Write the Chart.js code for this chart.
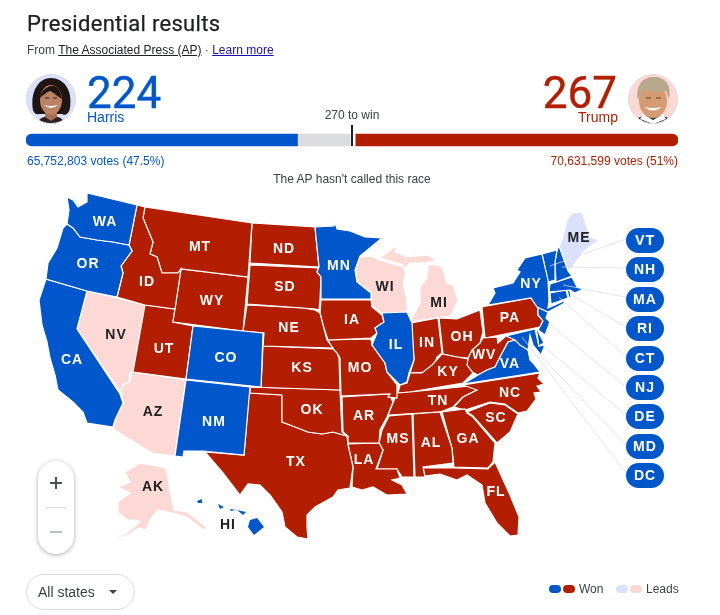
<!DOCTYPE html>
<html><head><meta charset="utf-8">
<script src="https://cdn.jsdelivr.net/npm/chart.js@4"></script>
<style>
html,body{margin:0;padding:0;background:#fff;width:720px;height:615px;overflow:hidden;font-family:"Liberation Sans",Arial,sans-serif;color:#202124}
.t{position:absolute;white-space:nowrap;line-height:1}
canvas{position:absolute}
.pill{position:absolute;left:626px;width:38px;height:25px;border-radius:13px;background:#0057cc;color:#fff;font:bold 14px/25px "Liberation Sans";letter-spacing:1px;text-align:center}
.dot{position:absolute;top:585px;width:12px;height:8px;border-radius:4px}
</style></head><body>
<canvas id="map" width="720" height="615" style="left:0;top:0"></canvas>
<canvas id="bar" width="652" height="30" style="left:26px;top:125px"></canvas>

<div class="t" style="left:27px;top:13px;font:400 22px/1 Roboto;letter-spacing:.3px;color:#202124;-webkit-text-stroke:.25px #202124">Presidential results</div>
<div class="t" style="left:27px;top:44px;font-size:12px;color:#3c4043">From <span style="text-decoration:underline;color:#202124">The Associated Press (AP)</span> · <span style="text-decoration:underline;color:#1a0dab">Learn more</span></div>

<svg style="position:absolute;left:26px;top:74px" width="50" height="50" viewBox="0 0 50 50">
<defs><clipPath id="c1"><circle cx="25" cy="25" r="24.5"/></clipPath></defs>
<g clip-path="url(#c1)"><rect width="50" height="50" fill="#d9e1fb"/>
<path d="M7 36C4 17 13 4 25 4s22 11 19 30c-1 6-5 8-8 6H13c-3 1-5-1-6-4z" fill="#1f1512"/>
<path d="M11 50c2-6 7-8 14-8s12 2 14 8z" fill="#2b2024"/>
<path d="M19 36h12v7l-6 4-6-4z" fill="#a86f53"/>
<ellipse cx="25" cy="26" rx="11" ry="15" fill="#bb8263"/>
<path d="M14 24c1-8 9-13 14-12 4 1 7 6 8 13-5-3-9-7-12-8-3 1-7 4-10 7z" fill="#1f1512"/>
<path d="M18 31q7 6 14 0q-7 2-14 0z" fill="#fff"/>
<path d="M19 24h4M27 24h4" stroke="#2a1a14" stroke-width="1.2"/></g>
<circle cx="25" cy="25" r="24.5" fill="none" stroke="#dadce0"/></svg>

<svg style="position:absolute;left:628px;top:74px" width="50" height="50" viewBox="0 0 50 50">
<defs><clipPath id="c2"><circle cx="25" cy="25" r="24.5"/></clipPath></defs>
<g clip-path="url(#c2)"><rect width="50" height="50" fill="#fcd9d4"/>
<path d="M6 50c2-7 8-9 19-9s17 2 19 9z" fill="#23252b"/>
<path d="M15 40l10 6 10-6 3 5-13 5-13-5z" fill="#fff"/>
<ellipse cx="25" cy="27" rx="14" ry="17" fill="#d79b74"/>
<path d="M10 26C7 11 15 3 26 3s18 8 15 22l-3-8c-6 2-16 1-23-2z" fill="#b8a88e"/>
<path d="M16 33q9 7 18 0q-9 2-18 0z" fill="#fff"/>
<path d="M18 24h5M28 24h5" stroke="#5a3a28" stroke-width="1.2"/></g>
<circle cx="25" cy="25" r="24.5" fill="none" stroke="#dadce0"/></svg>

<div class="t" style="left:87px;top:71px;font:400 44px/1 Roboto;color:#0057cc;-webkit-text-stroke:.4px #0057cc">224</div>
<div class="t" style="left:87px;top:110px;font-size:14px;color:#0057cc">Harris</div>
<div class="t" style="right:103px;top:71px;font:400 44px/1 Roboto;color:#b31e00;-webkit-text-stroke:.4px #b31e00">267</div>
<div class="t" style="right:102px;top:110px;font-size:14px;color:#b31e00">Trump</div>
<div class="t" style="left:352px;transform:translateX(-50%);top:109px;font-size:12px;color:#3c4043">270 to win</div>
<div class="t" style="left:27px;top:155px;font-size:12px;color:#0057cc">65,752,803 votes (47.5%)</div>
<div class="t" style="right:42px;top:155px;font-size:12px;color:#b31e00">70,631,599 votes (51%)</div>
<div class="t" style="left:352px;transform:translateX(-50%);top:173px;font-size:12px;color:#3c4043">The AP hasn't called this race</div>

<div id="pills"></div>

<div style="position:absolute;left:38px;top:461px;width:36px;height:93px;border-radius:18px;background:#fff;box-shadow:0 1px 4px rgba(60,64,67,.45)"></div>
<div style="position:absolute;left:50px;top:482px;width:12px;height:2px;background:#4d5156"></div>
<div style="position:absolute;left:55px;top:477px;width:2px;height:12px;background:#4d5156"></div>
<div style="position:absolute;left:46px;top:507px;width:20px;height:1px;background:#dadce0"></div>
<div style="position:absolute;left:50px;top:531px;width:12px;height:2px;background:#bdc1c6"></div>

<div style="position:absolute;left:26px;top:574px;width:107px;height:34px;border:1px solid #dadce0;border-radius:18px"></div>
<div class="t" style="left:38px;top:585px;font-size:14px;color:#3c4043">All states</div>
<div style="position:absolute;left:109px;top:590px;width:0;height:0;border-left:4px solid transparent;border-right:4px solid transparent;border-top:4px solid #3c4043"></div>

<div class="dot" style="left:549px;background:#0057cc"></div>
<div class="dot" style="left:563px;background:#b31e00"></div>
<div class="t" style="left:579px;top:583px;font-size:12px;color:#3c4043">Won</div>
<div class="dot" style="left:616px;background:#d9e1fd"></div>
<div class="dot" style="left:630px;background:#fcd9d4"></div>
<div class="t" style="left:646px;top:583px;font-size:12px;color:#3c4043">Leads</div>

<script>
// Electoral votes bar
const barLabels = ["Electoral votes"];
const harrisVotes = [224];
const undecidedVotes = [47];
const trumpVotes = [267];
const winThreshold = 270;
const totalVotes = 538;

// Pill labels for small states
const pillStates = ["VT","NH","MA","RI","CT","NJ","DE","MD","DC"];

// Colours
const BLUE="#0057cc", RED="#b31e00", LBLUE="#d9e1fd", LRED="#fcd9d4";

// State outlines (map units)
const WA=[[87,193],[137,205],[129,245],[113,242],[97,240],[80,237],[73,228],[67,224],[69,210],[67,197],[73,200],[78,207],[87,202]];
const OR=[[67,224],[73,228],[80,237],[97,240],[113,242],[129,245],[132,251],[121,266],[123,273],[117,297],[87,291],[46,279],[48,263],[57,248],[63,228]];
const CA=[[46,279],[87,291],[77,329],[120,394],[123,403],[115,420],[113,427],[87,423],[83,412],[73,402],[58,390],[56,380],[55,375],[50,358],[47,342],[42,325],[39,300],[43,288]];
const NV=[[87,291],[145,305],[133,372],[130,373],[129,382],[123,385],[121,393],[77,329]];
const ID=[[137,205],[145,207],[143,218],[153,242],[150,254],[157,257],[162,273],[178,273],[181,269],[175,309],[145,305],[117,297],[123,273],[121,266],[132,251],[129,245]];
const MT=[[145,207],[252,223],[248,277],[181,269],[178,273],[162,273],[157,257],[150,254],[153,242],[143,218]];
const WY=[[181,269],[248,277],[243,331],[173,322]];
const UT=[[145,305],[175,309],[173,322],[193,326],[186,379],[133,372]];
const CO=[[193,326],[263,333],[261,387],[186,379]];
const AZ=[[132,372],[186,380],[175,456],[152,453],[113,429],[115,420],[123,403],[121,390],[123,383],[130,381]];
const NM=[[186,380],[250,387],[244,455],[203,451],[184,451],[183,457],[175,456]];
const ND=[[252,223],[315,227],[319,267],[250,263]];
const SD=[[250,265],[319,268],[317,272],[321,277],[320,300],[319,310],[315,309],[303,308],[247,304]];
const NE=[[247,305],[303,308],[315,310],[320,313],[323,325],[327,340],[333,348],[263,346],[264,333],[243,331]];
const KS=[[263,346],[333,349],[337,353],[339,358],[340,390],[250,387],[261,387]];
const MN=[[315,227],[334,226],[335,222],[337,229],[350,231],[365,237],[382,238],[360,256],[355,270],[357,282],[371,293],[371,299],[321,299],[321,277],[317,272],[319,267]];
const IA=[[321,300],[371,300],[372,307],[382,315],[384,322],[375,328],[377,333],[371,338],[328,340],[323,325],[320,313]];
const MO=[[328,340],[371,339],[372,345],[385,363],[387,372],[397,385],[397,398],[388,397],[390,394],[341,396],[340,358],[337,353],[333,349]];
const IL=[[382,313],[407,312],[412,323],[414,360],[409,373],[407,382],[400,385],[395,380],[387,372],[385,363],[372,345],[377,333],[375,328],[384,322]];
const WI=[[360,257],[372,256],[377,259],[403,267],[406,274],[403,283],[407,300],[407,312],[382,313],[372,306],[371,293],[357,282],[355,270]];
const MI_UP=[[380,258],[397,245],[395,252],[407,257],[427,255],[437,260],[425,263],[410,263],[403,270],[403,265]];
const MI_LP=[[428,265],[437,265],[443,268],[447,283],[453,285],[458,300],[453,312],[450,316],[410,322],[420,303],[420,287],[427,278]];
const IN=[[411,323],[438,318],[442,353],[437,357],[435,363],[427,372],[410,373],[414,360]];
const OH=[[439,318],[457,319],[480,310],[483,332],[480,343],[472,350],[468,358],[457,357],[443,354]];
const KY=[[442,354],[457,357],[468,359],[467,365],[473,373],[463,383],[410,392],[398,393],[400,385],[407,383],[410,373],[422,373],[432,365]];
const WV=[[480,343],[483,338],[497,337],[498,343],[507,335],[515,340],[508,342],[500,357],[495,367],[487,370],[478,375],[472,372],[467,365],[468,358],[472,350]];
const PA=[[482,307],[487,306],[531,298],[538,307],[538,315],[543,320],[540,327],[485,338]];
const NY=[[488,305],[495,293],[493,288],[513,283],[520,272],[517,270],[525,258],[542,254],[548,280],[549,300],[548,308],[566,300],[563,304],[548,312],[537,307],[531,298]];
const VT=[[542,254],[557,250],[555,262],[555,280],[548,282]];
const NH=[[557,250],[559,246],[568,271],[572,276],[556,282],[555,262]];
const ME=[[559,247],[563,237],[567,220],[572,213],[582,212],[587,227],[590,237],[599,240],[583,252],[572,268],[568,270]];
const MA=[[550,284],[572,277],[577,287],[583,289],[575,293],[570,290],[549,292]];
const CT=[[550,293],[566,290],[568,298],[551,304]];
const RI=[[567,290],[570,291],[571,297],[569,298]];
const NJ=[[538,307],[548,312],[546,318],[550,322],[545,335],[538,330],[543,321],[538,315]];
const DE=[[536,328],[538,331],[544,343],[539,346]];
const MD=[[506,336],[535,329],[539,346],[545,345],[541,355],[533,345],[530,335],[528,350],[520,345],[515,340]];
const DC=[[520,342],[523,342],[523,345],[520,345]];
const VA=[[463,384],[478,375],[487,370],[495,367],[500,357],[508,342],[515,340],[528,350],[530,360],[533,363],[540,372]];
const NC=[[463,385],[540,373],[538,378],[544,384],[537,386],[541,392],[534,393],[536,399],[527,411],[518,413],[505,404],[490,402],[465,410],[454,407],[463,397],[477,390]];
const TN=[[397,393],[410,392],[480,385],[477,390],[463,397],[453,407],[440,412],[388,415],[393,403]];
const AR=[[342,397],[389,394],[393,402],[387,417],[380,430],[379,443],[348,443],[348,436],[343,432]];
const OK=[[250,387],[340,390],[342,432],[347,436],[333,432],[322,434],[308,432],[290,425],[282,422],[282,395],[250,393]];
const TX=[[249,393],[282,395],[282,422],[290,425],[308,432],[322,434],[333,432],[347,436],[348,445],[353,467],[350,488],[338,490],[333,497],[315,507],[307,515],[307,527],[308,539],[297,537],[285,527],[282,512],[270,495],[260,485],[248,484],[240,495],[223,473],[205,452],[244,455]];
const LA=[[348,444],[379,443],[383,450],[376,469],[397,469],[400,478],[392,480],[402,485],[407,494],[387,495],[373,487],[362,490],[352,487],[353,467]];
const MS=[[389,416],[412,414],[414,477],[402,477],[397,469],[377,469],[383,450],[379,443],[382,430]];
const AL=[[413,414],[440,412],[452,448],[453,463],[423,467],[425,477],[415,477]];
const GA=[[442,412],[465,409],[467,413],[473,417],[495,443],[493,462],[488,468],[454,467],[452,448]];
const SC=[[467,412],[490,403],[505,405],[518,414],[510,432],[497,443],[473,416]];
const FL=[[423,468],[454,468],[488,469],[495,462],[510,495],[519,517],[518,535],[510,536],[497,523],[485,503],[482,485],[467,475],[457,480],[440,474],[425,476]];
const AK=[[125,472],[140,463],[166,468],[174,510],[187,512],[207,527],[203,530],[187,517],[173,513],[158,510],[150,520],[146,530],[139,528],[130,534],[107,543],[128,532],[140,522],[137,520],[127,520],[118,512],[118,502],[130,493],[118,487],[130,482]];
const HI1=[[250,520],[257,518],[264,527],[254,535],[248,527]];
const HI2=[[237,510],[246,512],[243,515]];
const HI3=[[230,509],[236,510],[231,511]];
const HI4=[[218,504],[224,507],[220,509]];
const HI5=[[197,501],[202,499],[202,503],[198,503]];

const wonHarris=[WA,OR,CA,CO,NM,MN,IL,NY,VT,NH,MA,CT,RI,NJ,DE,MD,DC,VA];
const hawaii=[HI1,HI2,HI3,HI4,HI5];
const wonTrump=[ID,MT,WY,UT,ND,SD,NE,KS,OK,TX,IA,MO,AR,LA,MS,AL,GA,FL,SC,NC,TN,KY,IN,OH,WV,PA];
const leadHarris=[ME];
const leadTrump=[NV,AZ,WI,MI_UP,MI_LP,AK];

// Leader lines from small states to their pills (map units)
const leaders=[[[626,239],[550,266]],[[626,268],[562,267]],[[626,297],[563,285]],[[626,327],[570,294]],[[626,357],[559,297]],[[626,387],[548,323]],[[626,415],[542,345]],[[626,445],[538,353]],[[626,473],[522,337]]];

// State abbreviations and label anchor points
const labelNames=["WA","OR","CA","ID","MT","WY","UT","CO","NM","ND","SD","NE","KS","OK","TX","MN","IA","MO","AR","LA","IL","IN","OH","KY","TN","MS","AL","GA","SC","NC","FL","VA","WV","PA","NY","HI","NV","AZ","AK","WI","MI","ME"];
const labelX=[105,88,72,147,200,212,164,226,214,284,285,289,302,312,296,339,352,360,364,364,396,427,462,448,438,398,431,468,496,510,496,510,484,510,531,228,116,153,153,385,439,579];
const labelY=[222,264,360,282,247,301,349,358,422,249,287,328,368,410,462,266,320,368,416,460,345,343,337,372,401,439,443,439,418,393,492,364,355,318,284,525,335,412,487,287,303,238];
const darkLabels=["HI","NV","AZ","AK","WI","MI","ME"];

function pts(a){return a.map(p=>({x:p[0],y:p[1]}));}
function poly(a,c,w){return{data:pts(a),showLine:true,fill:'shape',backgroundColor:c,borderColor:w?'#fff':c,borderWidth:w,pointRadius:0,tension:0,parsing:false,order:1};}
const stateData=[];
const closed=a=>a.concat([a[0]]);
wonHarris.forEach(a=>stateData.push(poly(closed(a),BLUE,1.2)));
hawaii.forEach(a=>stateData.push(poly(closed(a),BLUE,0)));
wonTrump.forEach(a=>stateData.push(poly(closed(a),RED,1.2)));
leadHarris.forEach(a=>stateData.push(poly(closed(a),LBLUE,1.2)));
leadTrump.forEach(a=>stateData.push(poly(closed(a),LRED,1.2)));
const leaderData=leaders.map(l=>({data:pts(l),showLine:true,fill:false,borderColor:'rgba(218,220,224,.75)',borderWidth:1,pointRadius:0,parsing:false,order:0}));

const stateLabels={id:'stateLabels',afterDatasetsDraw(c){
  const {ctx,scales:{x,y}}=c;ctx.save();
  ctx.font='bold 14px "Liberation Sans"';ctx.letterSpacing='1px';ctx.textAlign='center';ctx.textBaseline='middle';
  labelNames.forEach((n,i)=>{ctx.fillStyle=darkLabels.includes(n)?'#202124':'#fff';ctx.fillText(n,x.getPixelForValue(labelX[i]),y.getPixelForValue(labelY[i]));});
  ctx.restore();}};

new Chart(document.getElementById('map'),{type:'scatter',data:{datasets:stateData.concat(leaderData)},
 options:{responsive:false,animation:false,events:[],layout:{padding:0},
  plugins:{legend:{display:false},tooltip:{enabled:false}},
  scales:{x:{type:'linear',min:0,max:720,display:false},y:{type:'linear',min:0,max:615,reverse:true,display:false}}},
 plugins:[stateLabels]});

const winMark={id:'winMark',afterDatasetsDraw(c){
  const {ctx,scales:{x}}=c;const p=Math.round(x.getPixelForValue(winThreshold))-1;ctx.save();
  ctx.fillStyle='#fff';ctx.fillRect(p-1.5,0,5,22);
  ctx.fillStyle='#202124';ctx.fillRect(p-1,0,2,21);ctx.restore();}};

new Chart(document.getElementById('bar'),{type:'bar',data:{labels:barLabels,datasets:[
  {data:harrisVotes,backgroundColor:BLUE,borderSkipped:false,borderRadius:{topLeft:6,bottomLeft:6,topRight:0,bottomRight:0}},
  {data:undecidedVotes,backgroundColor:'#dadce0'},
  {data:trumpVotes,backgroundColor:RED,borderSkipped:false,borderRadius:{topLeft:0,bottomLeft:0,topRight:6,bottomRight:6}}]},
 options:{indexAxis:'y',responsive:false,animation:false,events:[],layout:{padding:0},barThickness:12,
  plugins:{legend:{display:false},tooltip:{enabled:false}},
  scales:{x:{stacked:true,min:0,max:totalVotes,display:false},y:{stacked:true,display:false}}},
 plugins:[winMark]});

const pillTops=[228,257,287,316,346,375,404,434,463];
pillStates.forEach((s,i)=>{const d=document.createElement('div');d.className='pill';d.style.top=pillTops[i]+'px';d.textContent=s;document.getElementById('pills').appendChild(d);});
</script>
</body></html>
